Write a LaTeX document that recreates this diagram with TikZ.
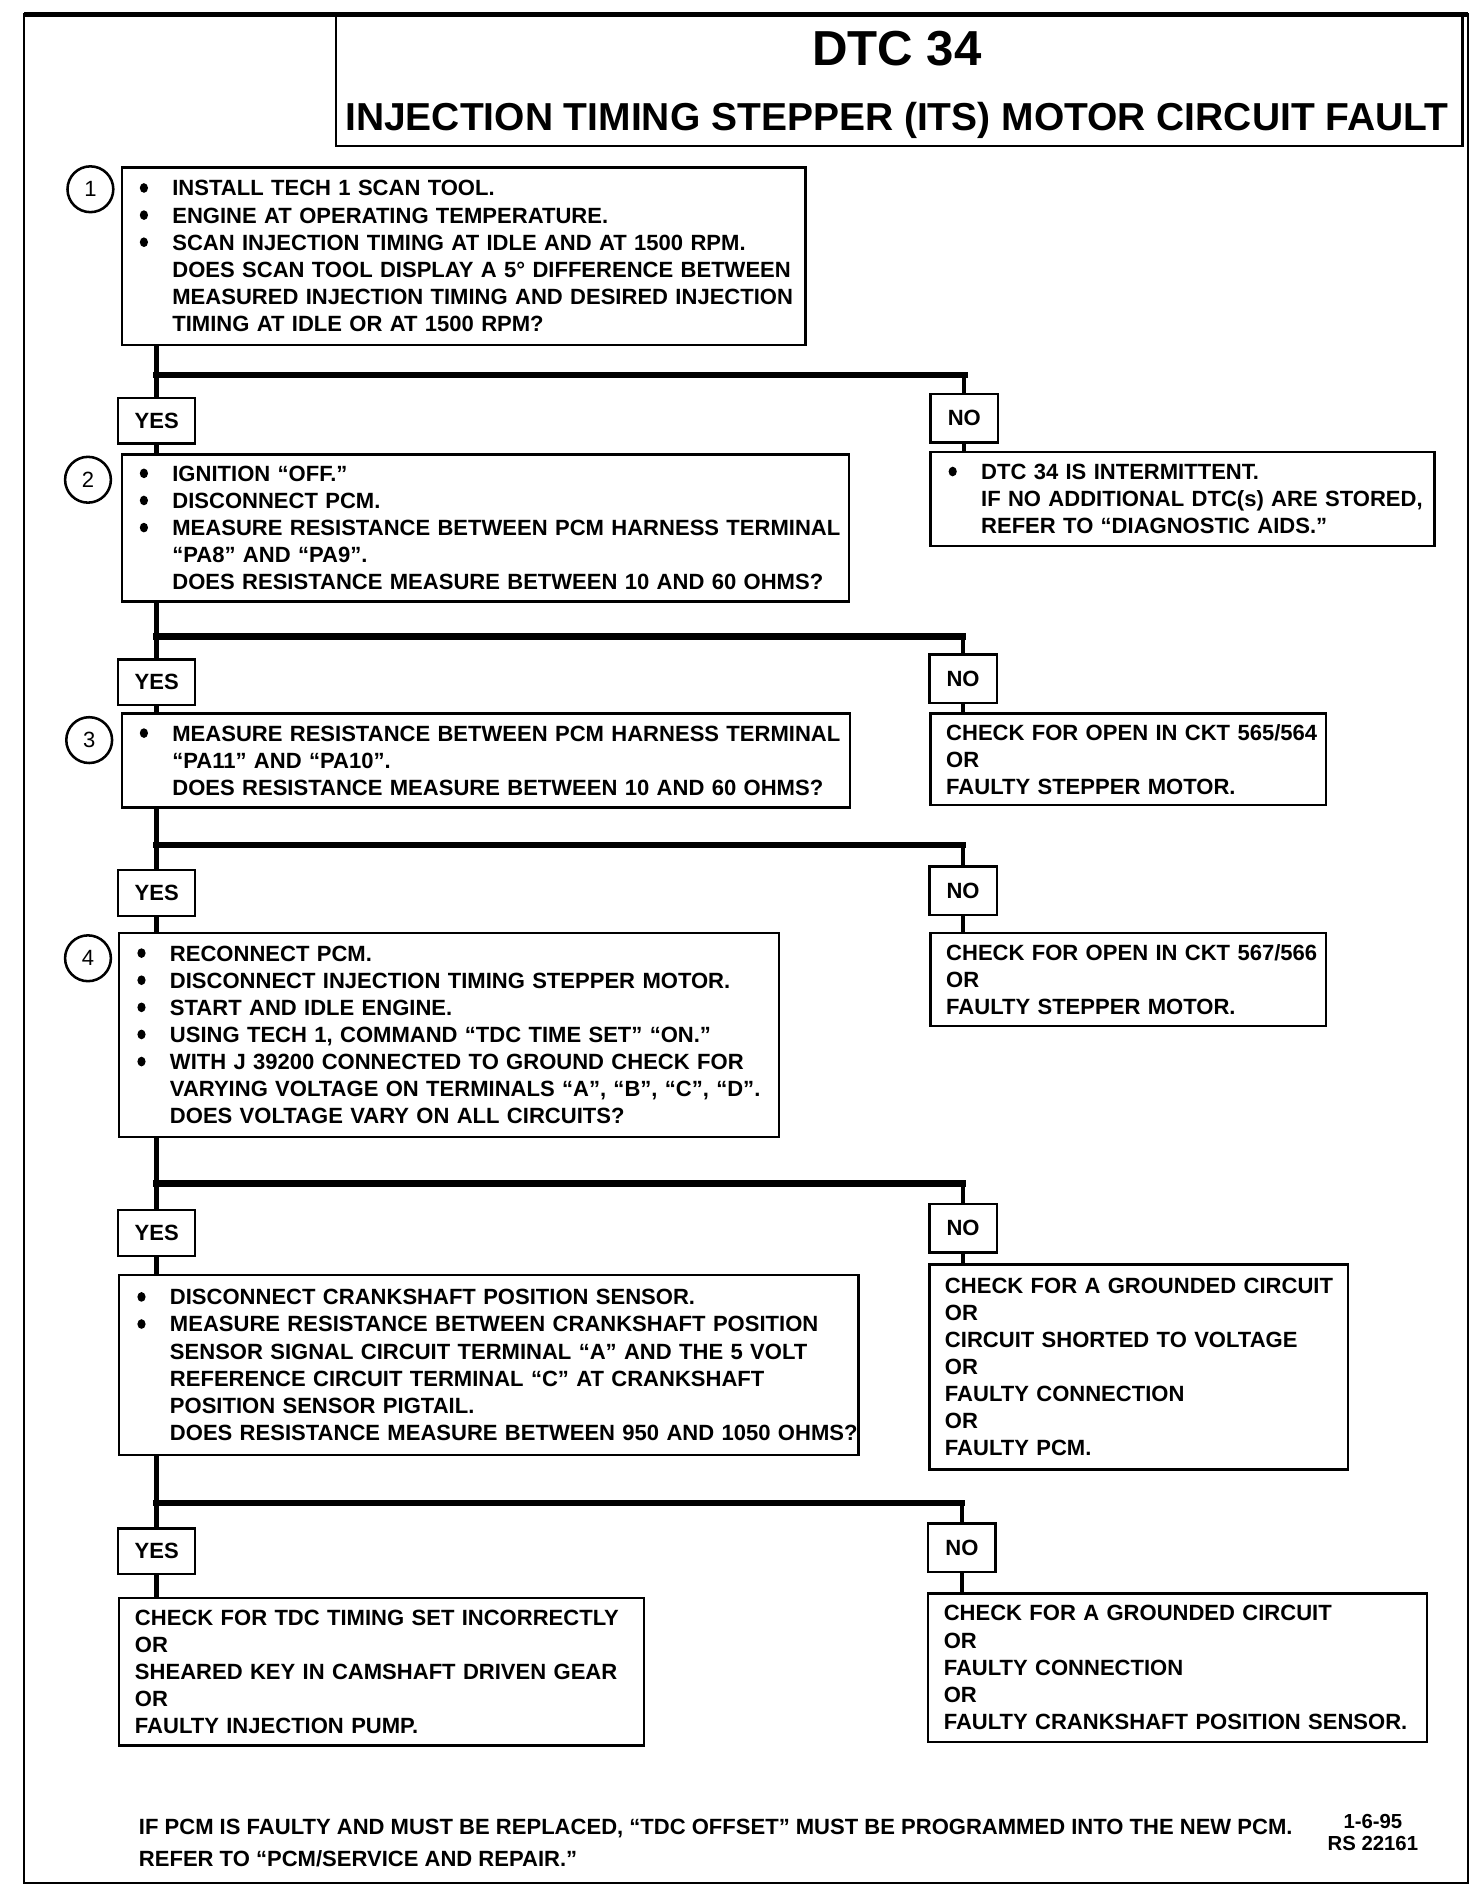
\documentclass[tikz,border=0pt]{standalone}
\usepackage{fontspec}
\setmainfont{Liberation Sans}
\newcommand\bdot{\tikz[baseline=0pt]\fill (0.1cm,0.165cm) ellipse [x radius=0.085cm, y radius=0.1cm];}
\newcommand\bitm[1]{\mbox{\makebox[0.725cm][l]{\hspace{0.05cm}\bdot}#1}}
\newcommand\contl[1]{\mbox{\hspace{0.725cm}#1}}
\newcommand\pl[1]{\mbox{#1}}
\begin{document}
\begin{tikzpicture}[x=0.025cm,y=-0.025cm,
  box/.style={draw, line width=1.4pt, rectangle, anchor=north west, inner xsep=0.325cm, inner ysep=0pt, align=left, font=\bfseries\fontsize{13}{16}\selectfont},
  yn/.style={draw, line width=1.4pt, rectangle, inner sep=0pt, font=\bfseries\fontsize{13}{16}\selectfont},
  yesbox/.style={yn, minimum width=1.6cm, minimum height=0.95cm},
  nobox/.style={yn, minimum width=1.4cm, minimum height=1.0cm},
  numc/.style={draw, circle, line width=1.5pt, minimum size=0.95cm, inner sep=0pt, font=\fontsize{13}{16}\selectfont},
  vline/.style={line width=2.6pt},
  hline/.style={line width=3.8pt, line cap=rect},
]
\useasboundingbox (0,0) rectangle (1221,1568);

% frame
\draw[line width=1.4pt] (20,12) rectangle (1218,1562);
\draw[line width=2.8pt] (20,12) -- (1218,12);
\node[draw, line width=1.4pt, anchor=north west, inner sep=0pt, minimum width=23.35cm, minimum height=2.7cm] (titlebox) at (278,12) {};
\node[font=\bfseries\fontsize{29}{32}\selectfont, inner sep=0pt] (title) at (744,40) {DTC 34};
\node[font=\bfseries\fontsize{23}{26}\selectfont, inner sep=0pt] (subtitle) at (744,100) {INJECTION TIMING STEPPER (ITS) MOTOR CIRCUIT FAULT};

% step 1
\node[numc] (c1) at (75,157) {1};
\node[box, text width=13.525cm, minimum width=14.175cm, minimum height=3.675cm] (b1) at (100,138) {%
\bitm{INSTALL TECH 1 SCAN TOOL.}\\
\bitm{ENGINE AT OPERATING TEMPERATURE.}\\
\bitm{SCAN INJECTION TIMING AT IDLE AND AT 1500 RPM.}\\
\contl{DOES SCAN TOOL DISPLAY A 5° DIFFERENCE BETWEEN}\\
\contl{MEASURED INJECTION TIMING AND DESIRED INJECTION}\\
\contl{TIMING AT IDLE OR AT 1500 RPM?}};

\node[yesbox] (yes1) at (130,349) {YES};
\node[nobox] (no1) at (800,347) {NO};

% step 2
\node[numc] (c2) at (73,398) {2};
\node[box, text width=14.425cm, minimum width=15.075cm, minimum height=3.05cm] (b2) at (100,376) {%
\bitm{IGNITION “OFF.”}\\
\bitm{DISCONNECT PCM.}\\
\bitm{MEASURE RESISTANCE BETWEEN PCM HARNESS TERMINAL}\\
\contl{“PA8” AND “PA9”.}\\
\contl{DOES RESISTANCE MEASURE BETWEEN 10 AND 60 OHMS?}};
\node[box, text width=9.8cm, minimum width=10.45cm, minimum height=1.95cm] (r1) at (771,374) {%
\bitm{DTC 34 IS INTERMITTENT.}\\
\contl{IF NO ADDITIONAL DTC(s) ARE STORED,}\\
\contl{REFER TO “DIAGNOSTIC AIDS.”}};

\node[yesbox] (yes2) at (130,566) {YES};
\node[nobox] (no2) at (799,563) {NO};

% step 3
\node[numc] (c3) at (74,614) {3};
\node[box, text width=14.45cm, minimum width=15.1cm, minimum height=1.95cm] (b3) at (100,591) {%
\bitm{MEASURE RESISTANCE BETWEEN PCM HARNESS TERMINAL}\\
\contl{“PA11” AND “PA10”.}\\
\contl{DOES RESISTANCE MEASURE BETWEEN 10 AND 60 OHMS?}};
\node[box, text width=7.55cm, minimum width=8.2cm, minimum height=1.9cm] (r2) at (771,591) {%
\pl{CHECK FOR OPEN IN CKT 565/564}\\
\pl{OR}\\
\pl{FAULTY STEPPER MOTOR.}};

\node[yesbox] (yes3) at (130,741) {YES};
\node[nobox] (no3) at (799,739) {NO};

% step 4
\node[numc] (c4) at (73,795) {4};
\node[box, text width=13.025cm, minimum width=13.675cm, minimum height=4.225cm] (b4) at (98,773) {%
\bitm{RECONNECT PCM.}\\
\bitm{DISCONNECT INJECTION TIMING STEPPER MOTOR.}\\
\bitm{START AND IDLE ENGINE.}\\
\bitm{USING TECH 1, COMMAND “TDC TIME SET” “ON.”}\\
\bitm{WITH J 39200 CONNECTED TO GROUND CHECK FOR}\\
\contl{VARYING VOLTAGE ON TERMINALS “A”, “B”, “C”, “D”.}\\
\contl{DOES VOLTAGE VARY ON ALL CIRCUITS?}};
\node[box, text width=7.55cm, minimum width=8.2cm, minimum height=1.925cm] (r3) at (771,773) {%
\pl{CHECK FOR OPEN IN CKT 567/566}\\
\pl{OR}\\
\pl{FAULTY STEPPER MOTOR.}};

\node[yesbox] (yes4) at (130,1023) {YES};
\node[nobox] (no4) at (799,1019) {NO};

% step 5
\node[box, text width=14.675cm, minimum width=15.325cm, minimum height=3.725cm] (b5) at (98,1057) {%
\bitm{DISCONNECT CRANKSHAFT POSITION SENSOR.}\\
\bitm{MEASURE RESISTANCE BETWEEN CRANKSHAFT POSITION}\\
\contl{SENSOR SIGNAL CIRCUIT TERMINAL “A” AND THE 5 VOLT}\\
\contl{REFERENCE CIRCUIT TERMINAL “C” AT CRANKSHAFT}\\
\contl{POSITION SENSOR PIGTAIL.}\\
\contl{DOES RESISTANCE MEASURE BETWEEN 950 AND 1050 OHMS?}};
\node[box, text width=8.025cm, minimum width=8.675cm, minimum height=4.25cm] (r4) at (770,1048) {%
\pl{CHECK FOR A GROUNDED CIRCUIT}\\
\pl{OR}\\
\pl{CIRCUIT SHORTED TO VOLTAGE}\\
\pl{OR}\\
\pl{FAULTY CONNECTION}\\
\pl{OR}\\
\pl{FAULTY PCM.}};

\node[yesbox] (yes5) at (130,1287) {YES};
\node[nobox] (no5) at (798,1284) {NO};

\node[box, text width=10.225cm, minimum width=10.875cm, minimum height=3.05cm] (yr) at (98,1325) {%
\pl{CHECK FOR TDC TIMING SET INCORRECTLY}\\
\pl{OR}\\
\pl{SHEARED KEY IN CAMSHAFT DRIVEN GEAR}\\
\pl{OR}\\
\pl{FAULTY INJECTION PUMP.}};
\node[box, text width=9.7cm, minimum width=10.35cm, minimum height=3.075cm] (r5) at (769,1321) {%
\pl{CHECK FOR A GROUNDED CIRCUIT}\\
\pl{OR}\\
\pl{FAULTY CONNECTION}\\
\pl{OR}\\
\pl{FAULTY CRANKSHAFT POSITION SENSOR.}};

% footer
\node[anchor=west, align=left, inner sep=0pt, font=\bfseries\fontsize{13}{18.4}\selectfont] (foot) at (115,1529) {%
IF PCM IS FAULTY AND MUST BE REPLACED, “TDC OFFSET” MUST BE PROGRAMMED INTO THE NEW PCM.\\
REFER TO “PCM/SERVICE AND REPAIR.”};
\node[align=center, inner sep=0pt, font=\bfseries\fontsize{12}{12.8}\selectfont] (date) at (1139,1520) {1-6-95\\RS 22161};

% junctions
\coordinate (j1) at (130,311);
\coordinate (j2) at (130,528);
\coordinate (j3) at (130,701);
\coordinate (j4) at (130,982);
\coordinate (j5) at (130,1247);

% connectors
\foreach \b/\y/\n/\j in {b1/yes1/no1/j1, b2/yes2/no2/j2, b3/yes3/no3/j3, b4/yes4/no4/j4, b5/yes5/no5/j5}{
  \draw[vline] (\b.south -| \y) -- (\y.north);
  \draw[hline] (\j) -- (\j -| \n);
  \draw[vline] (\j -| \n) -- (\n.north);
}
\draw[vline] (yes1.south) -- (yes1 |- b2.north);
\draw[vline] (no1.south) -- (no1 |- r1.north);
\draw[vline] (yes2.south) -- (yes2 |- b3.north);
\draw[vline] (no2.south) -- (no2 |- r2.north);
\draw[vline] (yes3.south) -- (yes3 |- b4.north);
\draw[vline] (no3.south) -- (no3 |- r3.north);
\draw[vline] (yes4.south) -- (yes4 |- b5.north);
\draw[vline] (no4.south) -- (no4 |- r4.north);
\draw[vline] (yes5.south) -- (yes5 |- yr.north);
\draw[vline] (no5.south) -- (no5 |- r5.north);
\end{tikzpicture}
\end{document}
